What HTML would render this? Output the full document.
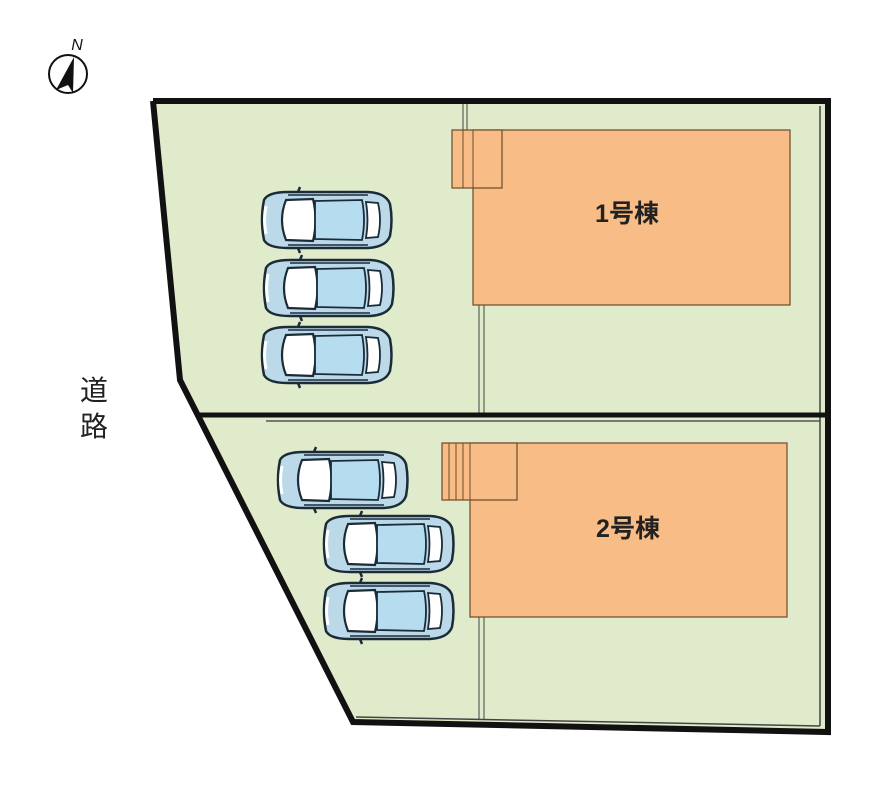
<!DOCTYPE html>
<html><head><meta charset="utf-8"><style>body{margin:0;background:#fff}svg{display:block}</style></head><body>
<svg width="886" height="800" viewBox="0 0 886 800" xmlns="http://www.w3.org/2000/svg">
<defs>
<g id="car">
<path d="M6,8 Q2,28 6,48 Q10,56 30,56 L110,56 Q128,55 132,44 Q135,28 132,12 Q128,1 110,0 L30,0 Q10,0 6,8 Z" fill="#bcd9ea" stroke="#1b2b38" stroke-width="2.5"/>
<path d="M8,14 Q5,28 8,42" fill="none" stroke="#fff" stroke-width="3"/>
<path d="M28,8 L55,7 Q60,28 55,49 L28,48 Q20,28 28,8 Z" fill="#fff" stroke="#1b2b38" stroke-width="2.2"/>
<path d="M57,9 L104,8 Q108,28 104,48 L57,47 Z" fill="#b6dcf0" stroke="#1b2b38" stroke-width="1.8"/>
<path d="M108,10 L120,11 Q124,28 120,45 L108,46 Q111,28 108,10 Z" fill="#fff" stroke="#1b2b38" stroke-width="1.8"/>
<path d="M40,0 L42,-5 M40,56 L42,61" stroke="#1b2b38" stroke-width="2.5"/>
<path d="M30,3 L110,3 M30,53 L110,53" stroke="#1b2b38" stroke-width="1.5"/>
</g>
</defs>
<polygon points="153,101 828,101 828,732 353,722 180,380" fill="#e0ebcb"/>
<line x1="266" y1="421" x2="820" y2="421" stroke="#555" stroke-width="1.5"/>
<line x1="820" y1="106" x2="820" y2="726" stroke="#444" stroke-width="1.5"/>
<line x1="356" y1="717" x2="820" y2="726" stroke="#444" stroke-width="1.5"/>
<line x1="463" y1="103" x2="463" y2="130" stroke="#444" stroke-width="1"/>
<line x1="467" y1="103" x2="467" y2="130" stroke="#444" stroke-width="1"/>
<line x1="479" y1="305" x2="479" y2="413" stroke="#444" stroke-width="1"/>
<line x1="484" y1="305" x2="484" y2="413" stroke="#444" stroke-width="1"/>
<line x1="479" y1="617" x2="479" y2="719" stroke="#444" stroke-width="1"/>
<line x1="484" y1="617" x2="484" y2="719" stroke="#444" stroke-width="1"/>
<rect x="473" y="130" width="317" height="175" fill="#f8bd86" stroke="#6b4a2a" stroke-width="1.2"/>
<rect x="452" y="130" width="50" height="58" fill="#f8bd86" stroke="#6b4a2a" stroke-width="1.2"/>
<line x1="463" y1="130" x2="463" y2="188" stroke="#6b4a2a"/><line x1="473" y1="130" x2="473" y2="188" stroke="#6b4a2a"/>
<rect x="470" y="443" width="317" height="174" fill="#f8bd86" stroke="#6b4a2a" stroke-width="1.2"/>
<rect x="442" y="443" width="75" height="57" fill="#f8bd86" stroke="#6b4a2a" stroke-width="1.2"/>
<line x1="449" y1="443" x2="449" y2="500" stroke="#6b4a2a"/><line x1="456" y1="443" x2="456" y2="500" stroke="#6b4a2a"/><line x1="463" y1="443" x2="463" y2="500" stroke="#6b4a2a"/><line x1="470" y1="443" x2="470" y2="500" stroke="#6b4a2a"/>
<polyline points="153,101 828,101 828,732 353,722 180,380 153,101" fill="none" stroke="#111" stroke-width="6" stroke-linejoin="miter"/>
<line x1="198" y1="415" x2="828" y2="415" stroke="#111" stroke-width="5"/>
<use href="#car" x="258" y="192"/>
<use href="#car" x="260" y="260"/>
<use href="#car" x="258" y="327"/>
<use href="#car" x="274" y="452"/>
<use href="#car" x="320" y="516"/>
<use href="#car" x="320" y="583"/>
<text x="627" y="222" font-family="Liberation Sans, Noto Sans CJK JP, sans-serif" font-size="25" font-weight="bold" text-anchor="middle" fill="#222">1号棟</text>
<text x="628" y="537" font-family="Liberation Sans, Noto Sans CJK JP, sans-serif" font-size="25" font-weight="bold" text-anchor="middle" fill="#222">2号棟</text>
<text x="94" y="400" font-family="Liberation Sans, Noto Sans CJK JP, sans-serif" font-size="28" text-anchor="middle" fill="#222">道</text>
<text x="94" y="436" font-family="Liberation Sans, Noto Sans CJK JP, sans-serif" font-size="28" text-anchor="middle" fill="#222">路</text>
<circle cx="68" cy="74" r="19" fill="#fff" stroke="#111" stroke-width="2"/>
<polygon points="74,57 56,90 68,85 73,93" fill="#111"/>
<text x="77" y="50" font-family="Liberation Sans, sans-serif" font-size="16" font-style="italic" fill="#111" text-anchor="middle">N</text>
</svg>
</body></html>
